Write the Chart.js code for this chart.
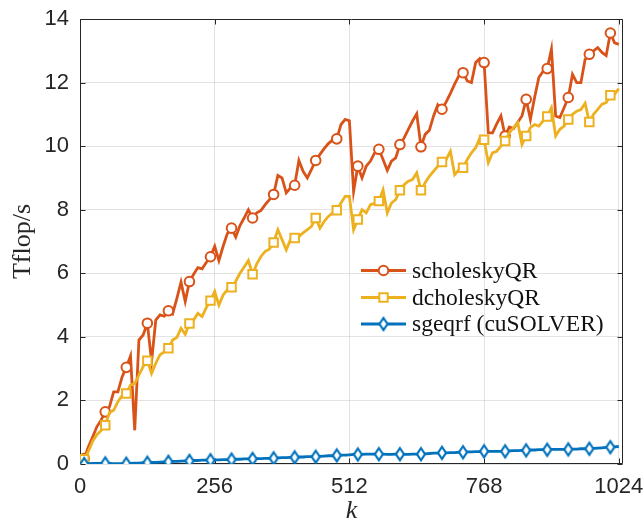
<!DOCTYPE html>
<html><head><meta charset="utf-8">
<script src="https://cdn.jsdelivr.net/npm/chart.js@4.4.0/dist/chart.umd.min.js"></script>
<style>html,body{margin:0;padding:0;background:#fff;}#wrap{width:643px;height:527px;position:relative;}</style>
</head><body><div id="wrap"><canvas id="c" width="643" height="527"></canvas></div>
<script>
const kValues = [8,16,24,32,40,48,56,64,72,80,88,96,104,112,120,128,136,144,152,160,168,176,184,192,200,208,216,224,232,240,248,256,264,272,280,288,296,304,312,320,328,336,344,352,360,368,376,384,392,400,408,416,424,432,440,448,456,464,472,480,488,496,504,512,520,528,536,544,552,560,568,576,584,592,600,608,616,624,632,640,648,656,664,672,680,688,696,704,712,720,728,736,744,752,760,768,776,784,792,800,808,816,824,832,840,848,856,864,872,880,888,896,904,912,920,928,936,944,952,960,968,976,984,992,1000,1008,1016,1024];
const scholeskyQR = [0.17,0.54,0.85,1.17,1.38, 1.64,1.80,2.27,2.27,2.74, 3.04,3.40,1.06,3.90,4.06, 4.43,3.22,4.53,4.69,4.65, 4.82,4.72,5.20,5.72,5.11, 5.74,5.97,6.18,6.14,6.34, 6.52,6.85,6.40,6.85,7.25, 7.42,7.14,7.50,7.74,8.00, 7.74,7.90,7.98,8.16,8.32, 8.48,9.08,9.00,8.53,8.69, 8.77,9.55,9.21,9.00,9.27, 9.55,9.74,9.92,10.08,10.19, 10.23,10.68,10.84,10.80,8.58, 9.37,9.00,9.37,9.53,9.79, 9.90,9.58,9.24,9.53,9.63, 10.05,10.26,10.53,10.79,11.02, 9.98,10.37,10.50,10.95,11.30, 11.16,11.39,11.66,11.95,12.21, 12.31,12.05,12.00,12.63,12.76, 12.63,10.42,10.42,10.70,10.95, 10.32,10.60,10.55,10.75,10.95, 11.47,10.84,11.53,12.16,12.35, 12.44,13.05,10.95,10.90,11.21, 11.53,12.26,12.00,12.00,12.73, 12.89,13.00,13.10,12.95,12.85, 13.56,13.25,13.20];
const dcholeskyQR = [0.15,0.40,0.72,0.92,1.05, 1.22,1.62,1.69,1.96,2.15, 2.22,2.48,2.53,2.80,3.06, 3.25,2.85,3.17,3.43,3.53, 3.64,3.90,3.98,4.27,4.08, 4.42,4.53,4.74,4.64,4.92, 5.14,5.43,5.00,5.32,5.48, 5.56,5.75,6.00,6.20,6.40, 5.97,6.30,6.53,6.69,6.76, 6.97,7.37,7.06,6.74,7.06, 7.11,7.16,7.27,7.37,7.48, 7.74,7.42,7.63,7.79,7.90, 7.98,8.21,8.42,8.42,7.37, 7.69,8.00,7.90,8.16,8.20, 8.27,8.63,7.90,8.21,8.32, 8.61,8.79,8.90,8.95,9.16, 8.61,8.85,9.05,9.21,9.37, 9.50,9.58,9.84,9.10,9.25, 9.32,9.58,9.79,9.95,10.26, 10.20,9.48,9.79,9.84,10.00, 10.16,10.42,10.58,10.74,10.05, 10.32,10.58,10.68,10.63,10.79, 10.93,11.21,10.32,10.53,10.63, 10.84,11.00,11.10,11.15,11.35, 10.76,11.00,11.16,11.32,11.37, 11.60,11.63,11.81];
const sgeqrf = [0.00,0.01,0.02,0.02,0.02, 0.02,0.02,0.01,0.01,0.01, 0.01,0.02,0.03,0.03,0.04, 0.04,0.05,0.05,0.06,0.07, 0.07,0.08,0.08,0.09,0.10, 0.10,0.11,0.11,0.12,0.12, 0.12,0.13,0.13,0.14,0.14, 0.14,0.15,0.15,0.16,0.16, 0.16,0.17,0.17,0.18,0.18, 0.18,0.19,0.20,0.20,0.21, 0.21,0.22,0.22,0.23,0.23, 0.23,0.24,0.25,0.26,0.26, 0.27,0.28,0.28,0.29,0.30, 0.30,0.30,0.31,0.31,0.31, 0.31,0.31,0.30,0.30,0.31, 0.31,0.30,0.30,0.31,0.31, 0.31,0.32,0.33,0.34,0.34, 0.35,0.35,0.36,0.36,0.37, 0.37,0.38,0.38,0.39,0.39, 0.40,0.40,0.40,0.40,0.40, 0.40,0.41,0.42,0.42,0.43, 0.43,0.44,0.44,0.45,0.45, 0.45,0.46,0.46,0.46,0.46, 0.46,0.47,0.47,0.48,0.48, 0.48,0.49,0.50,0.51,0.52, 0.53,0.54,0.55];
const xTickValues = [0,256,512,768,1024];
const yTickValues = [0,2,4,6,8,10,12,14];
const seriesNames = ['scholeskyQR','dcholeskyQR','sgeqrf (cuSOLVER)'];
const xLabel = 'k';
const yLabel = 'Tflop/s';

const COLORS = ['#D95319','#EDB120','#0072BD'];
const MARK_EVERY = 5;
const AXIS_COLOR = '#262626';
const GRID_COLOR = 'rgba(38,38,38,0.13)';
const LINE_W = 2.8;

function diamondCanvas(w,h,lw,color){
  const c=document.createElement('canvas');
  c.width=Math.ceil(w+lw*2)+1; c.height=Math.ceil(h+lw*2)+1;
  const g=c.getContext('2d'); const cx=c.width/2, cy=c.height/2;
  g.beginPath(); g.moveTo(cx,cy-h/2); g.lineTo(cx+w/2,cy); g.lineTo(cx,cy+h/2); g.lineTo(cx-w/2,cy); g.closePath();
  g.fillStyle='#fff'; g.fill(); g.lineWidth=lw; g.strokeStyle=color; g.lineJoin='miter'; g.stroke();
  return c;
}
const diamond = diamondCanvas(8,12,2.2,COLORS[2]);

function pts(arr){ return kValues.map((k,i)=>({x:k,y:arr[i]})); }
const markR = (r)=> (ctx)=> (ctx.dataIndex % MARK_EVERY === 0 ? r : 0);

const pointStyles = ['circle','rect',diamond];
const pointRadii = [4.8,6,5];

const boxPlugin = {
  id:'box',
  beforeDatasetsDraw(chart){
    const {ctx, chartArea:a, scales} = chart;
    ctx.save();
    ctx.strokeStyle = AXIS_COLOR; ctx.lineWidth = 1;
    const L=Math.round(a.left)+0.5, R=Math.round(a.right)-0.5, T=Math.round(a.top)+0.5, B=Math.round(a.bottom)-0.5;
    ctx.beginPath();
    ctx.rect(L,T,R-L,B-T);
    const tl = 5;
    xTickValues.forEach(v=>{ const p=Math.round(scales.x.getPixelForValue(v))+0.5; ctx.moveTo(p,B); ctx.lineTo(p,B-tl); ctx.moveTo(p,T); ctx.lineTo(p,T+tl); });
    yTickValues.forEach(v=>{ const p=Math.round(scales.y.getPixelForValue(v))+0.5; ctx.moveTo(L,p); ctx.lineTo(L+tl,p); ctx.moveTo(R,p); ctx.lineTo(R-tl,p); });
    ctx.stroke();
    ctx.restore();
  },
  afterDatasetsDraw(chart){
    const {ctx} = chart;
    const rows=[270.5,297.5,324];
    const x1=361, x2=406, xm=383.5, xt=412;
    ctx.save();
    rows.forEach((y,i)=>{
      ctx.strokeStyle=COLORS[i]; ctx.lineWidth=LINE_W;
      ctx.beginPath(); ctx.moveTo(x1,y); ctx.lineTo(x2,y); ctx.stroke();
      ctx.fillStyle='#fff'; ctx.lineWidth=2;
      if(i===0){ ctx.beginPath(); ctx.arc(xm,y,4.8,0,Math.PI*2); ctx.fill(); ctx.stroke(); }
      else if(i===1){ const s=4.2; ctx.beginPath(); ctx.rect(xm-s,y-s,2*s,2*s); ctx.fill(); ctx.stroke(); }
      else { ctx.drawImage(diamond, xm-diamond.width/2, y-diamond.height/2); }
      ctx.fillStyle='#111'; ctx.font='23.5px "Liberation Serif"'; ctx.textBaseline='middle'; ctx.textAlign='left';
      ctx.fillText(seriesNames[i], xt, y+1);
    });
    ctx.restore();
  }
};

new Chart(document.getElementById('c'), {
  type:'line',
  data:{ datasets:[
    {label:seriesNames[0], data:pts(scholeskyQR), borderColor:COLORS[0], borderWidth:LINE_W, pointStyle:pointStyles[0], pointRadius:markR(pointRadii[0]), pointBorderWidth:2, pointBackgroundColor:'#fff', pointBorderColor:COLORS[0], tension:0, order:3},
    {label:seriesNames[1], data:pts(dcholeskyQR), borderColor:COLORS[1], borderWidth:LINE_W, pointStyle:pointStyles[1], pointRadius:markR(pointRadii[1]), pointBorderWidth:2, pointBackgroundColor:'#fff', pointBorderColor:COLORS[1], tension:0, order:2},
    {label:seriesNames[2], data:pts(sgeqrf), borderColor:COLORS[2], borderWidth:LINE_W, pointStyle:pointStyles[2], pointRadius:markR(pointRadii[2]), pointBorderWidth:2, pointBackgroundColor:'#fff', pointBorderColor:COLORS[2], tension:0, order:1}
  ]},
  options:{
    responsive:false, animation:false, devicePixelRatio:1, events:[],
    layout:{padding:{left:0,right:20,top:19,bottom:0}},
    plugins:{legend:{display:false}, tooltip:{enabled:false}},
    scales:{
      x:{type:'linear', min:0, max:1032,
        afterBuildTicks:(s)=>{ s.ticks = xTickValues.map(v=>({value:v})); },
        afterFit:(s)=>{ s.height=63; s.paddingLeft=0; s.paddingRight=0; },
        grid:{color:GRID_COLOR, drawTicks:false, lineWidth:1},
        border:{display:false},
        ticks:{color:AXIS_COLOR, font:{family:'"Liberation Sans"', size:22}, padding:10, maxRotation:0, autoSkip:false, callback:(v)=>String(v)},
        title:{display:true, text:xLabel, color:AXIS_COLOR, font:{family:'"Liberation Serif"', size:26, style:'italic'}, padding:{top:0,bottom:0}}
      },
      y:{type:'linear', min:0, max:14,
        afterBuildTicks:(s)=>{ s.ticks = yTickValues.map(v=>({value:v})); },
        afterFit:(s)=>{ s.width=80; s.paddingTop=0; s.paddingBottom=0; },
        grid:{color:GRID_COLOR, drawTicks:false, lineWidth:1},
        border:{display:false},
        ticks:{color:AXIS_COLOR, font:{family:'"Liberation Sans"', size:22}, padding:11, autoSkip:false, callback:(v)=>String(v)},
        title:{display:true, text:yLabel, color:AXIS_COLOR, font:{family:'"Liberation Serif"', size:26}, padding:{top:8,bottom:0}}
      }
    }
  },
  plugins:[boxPlugin]
});
</script></body></html>
